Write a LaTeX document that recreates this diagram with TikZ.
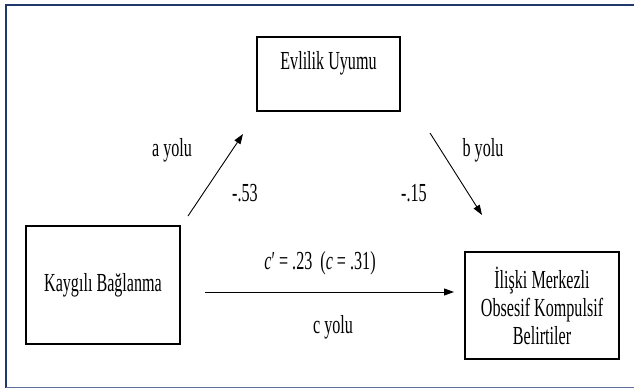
\documentclass[tikz,border=0pt]{standalone}
\usepackage{fontspec}
\setmainfont{Liberation Serif}[FakeStretch=0.62]
\usetikzlibrary{arrows.meta}
\definecolor{framedark}{RGB}{31,56,110}
\definecolor{framelight}{RGB}{95,112,160}
\tikzset{
  boxnode/.style={draw=black, line width=1.7pt, rectangle, inner sep=0pt, font=\fontsize{26}{28}\selectfont, align=center},
  lbl/.style={font=\fontsize{26}{28}\selectfont, inner sep=0pt},
  arr/.style={line width=0.9pt, -{Triangle[length=10pt,width=7pt]}}
}
\begin{document}
\begin{tikzpicture}[x=1pt,y=-1pt]
\useasboundingbox (0,0) rectangle (634,389);
% outer frame
\draw[framedark, line width=1.6pt] (634,5) -- (6,5) -- (6,387.5);
\draw[framelight, line width=1.6pt] (6,387.5) -- (634,387.5);
% boxes
\node[boxnode, minimum width=143pt, minimum height=74pt, text height=18pt, text depth=28pt] (ev) at (328.5,74) {Evlilik Uyumu};
\node[boxnode, minimum width=154pt, minimum height=118pt] (kb) at (103,285) {Kaygılı Bağlanma};
\node[boxnode, minimum width=154pt, minimum height=107pt] (ik) at (542,305.5) {İlişki Merkezli\\Obsesif Kompulsif\\Belirtiler};
% arrow end points
\coordinate (a1) at (188,216);
\coordinate (a2) at (243,134);
\coordinate (b1) at (430,133);
\coordinate (b2) at (482,215);
\coordinate (c1) at (205,292);
\coordinate (c2) at (454,292);
\draw[arr] (a1) -- (a2);
\draw[arr] (b1) -- (b2);
\draw[arr] (c1) -- (c2);
% labels
\node[lbl] (la) at (172,150) {a yolu};
\node[lbl] (va) at (245,193) {-.53};
\node[lbl] (lb) at (483,150) {b yolu};
\node[lbl] (vb) at (414,193) {-.15};
\node[lbl] (vc) at (320,263) {\textit{c}′ = .23\ \ (\textit{c} = .31)};
\node[lbl] (lc) at (333,327) {c yolu};
\end{tikzpicture}
\end{document}
